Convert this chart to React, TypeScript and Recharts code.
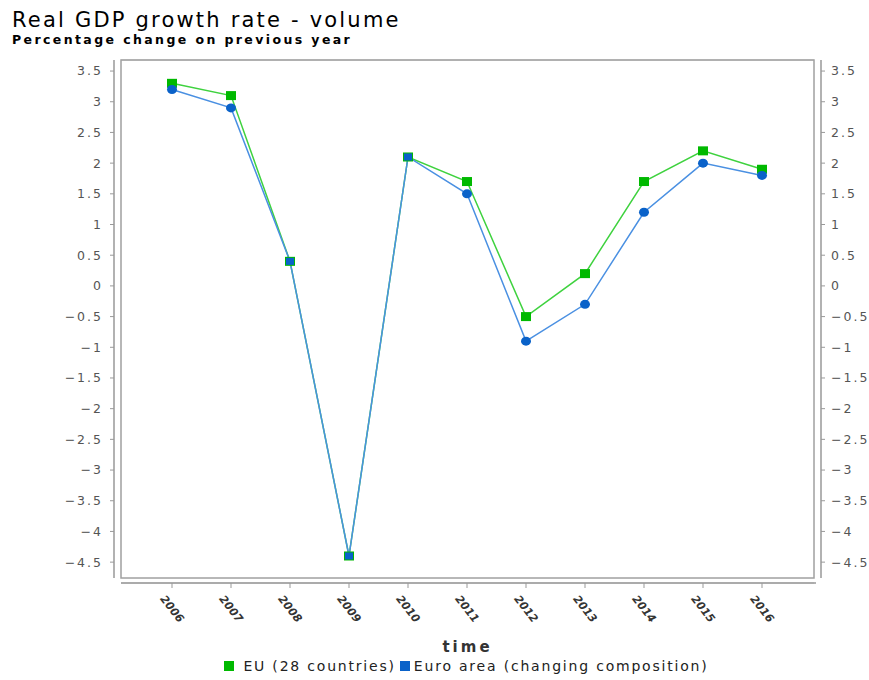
import React from "react"
import { LineChart, Line, XAxis, YAxis, CartesianGrid, Legend } from "recharts"

// values
const years = ["2006", "2007", "2008", "2009", "2010", "2011", "2012", "2013", "2014", "2015", "2016"]
const euValues = [3.3, 3.1, 0.4, -4.4, 2.1, 1.7, -0.5, 0.2, 1.7, 2.2, 1.9]
const euroAreaValues = [3.2, 2.9, 0.4, -4.4, 2.1, 1.5, -0.9, -0.3, 1.2, 2.0, 1.8]
const yTicks = [-4.5, -4, -3.5, -3, -2.5, -2, -1.5, -1, -0.5, 0, 0.5, 1, 1.5, 2, 2.5, 3, 3.5]
const yDomain = [-4.84, 3.68]

const EU_NAME = "EU (28 countries)"
const EA_NAME = "Euro area (changing composition)"

const GREEN_LINE = "#3fd23f"
const GREEN_MARK = "#00b900"
const BLUE_LINE = "#4a90e2"
const BLUE_MARK = "#0a62c9"

// layout
const W = 869
const H = 680
const MARGIN = { top: 60, right: 0, bottom: 6, left: 0 }
const LEFT_AXIS_W = 114
const RIGHT_AXIS_W = 48
const X_AXIS_H = 75
const LEGEND_H = 16
const PLOT_X = MARGIN.left + LEFT_AXIS_W
const PLOT_R = W - MARGIN.right - RIGHT_AXIS_W
const PLOT_Y = MARGIN.top
const PLOT_B = H - MARGIN.bottom - LEGEND_H - X_AXIS_H
const INSET = 7

const FONT = "'DejaVu Sans', Verdana, sans-serif"

const data = years.map((year, i) => ({
  year,
  eu: euValues[i],
  ea: euroAreaValues[i],
}))

const fmt = (v: number) => String(v).replace("-", "\u2212")

const EuDot = (props: any) => {
  const { cx, cy } = props
  if (cx == null || cy == null) return null
  return <rect x={cx - 5} y={cy - 4.5} width={10} height={9} fill={GREEN_MARK} />
}

const EaDot = (props: any) => {
  const { cx, cy, payload } = props
  if (cx == null || cy == null) return null
  // where both series coincide the reference shows a blue square on top of the green one
  if (payload && payload.eu === payload.ea) {
    return <rect x={cx - 4} y={cy - 3.5} width={8} height={7} fill={BLUE_MARK} />
  }
  return <ellipse cx={cx} cy={cy} rx={5} ry={4.5} fill={BLUE_MARK} />
}

const XTick = (props: any) => {
  const { x, y, payload } = props
  const cy = y + 19
  return (
    <text
      x={x}
      y={cy}
      transform={`rotate(52, ${x}, ${cy})`}
      textAnchor="middle"
      dominantBaseline="central"
      fontFamily={FONT}
      fontSize={11}
      fontWeight="bold"
      fontStyle="italic"
      fill="#333"
    >
      {payload.value}
    </text>
  )
}

const LegendContent = () => (
  <div
    style={{
      display: "flex",
      justifyContent: "center",
      alignItems: "center",
      fontFamily: FONT,
      fontSize: 14,
      letterSpacing: 1.8,
      color: "#222",
      height: LEGEND_H,
      paddingLeft: 64,
    }}
  >
    <span style={{ width: 10, height: 10, background: GREEN_MARK, marginRight: 9, display: "inline-block" }} />
    <span style={{ marginRight: 4 }}>{EU_NAME}</span>
    <span style={{ width: 10, height: 10, background: BLUE_MARK, marginRight: 4, display: "inline-block" }} />
    <span>{EA_NAME}</span>
  </div>
)

export default function App() {
  return (
    <div style={{ position: "absolute", left: 0, top: 0, width: W, height: H, background: "#fff" }}>
      <div
        style={{
          position: "absolute",
          left: 12,
          top: 8,
          fontFamily: FONT,
          fontSize: 21,
          letterSpacing: 2.2,
          color: "#000",
          whiteSpace: "nowrap",
        }}
      >
        Real GDP growth rate - volume
      </div>
      <div
        style={{
          position: "absolute",
          left: 12,
          top: 32,
          fontFamily: FONT,
          fontSize: 12.5,
          fontWeight: "bold",
          letterSpacing: 2.4,
          color: "#000",
          whiteSpace: "nowrap",
        }}
      >
        Percentage change on previous year
      </div>
      <LineChart width={W} height={H} data={data} margin={MARGIN} style={{ position: "absolute", left: 0, top: 0 }}>
        <CartesianGrid
          vertical={false}
          stroke="#c8c8c8"
          x={PLOT_X + INSET}
          width={PLOT_R - PLOT_X - 2 * INSET}
        />
        <rect
          x={PLOT_X + INSET}
          y={PLOT_Y}
          width={PLOT_R - PLOT_X - 2 * INSET}
          height={PLOT_B - PLOT_Y - 5}
          fill="none"
          stroke="#a0a0a0"
          strokeWidth={1.5}
        />
        <line x1={PLOT_X} x2={PLOT_X} y1={PLOT_Y} y2={PLOT_B - 5} stroke="#999" strokeWidth={1.5} />
        <line x1={PLOT_R} x2={PLOT_R} y1={PLOT_Y} y2={PLOT_B - 5} stroke="#999" strokeWidth={1.5} />
        <line x1={PLOT_X + INSET} x2={PLOT_R - INSET + 2} y1={PLOT_B} y2={PLOT_B} stroke="#999" strokeWidth={1.5} />
        <XAxis
          dataKey="year"
          height={X_AXIS_H}
          padding={{ left: 58, right: 59 }}
          axisLine={false}
          tickLine={{ stroke: "#999" }}
          tickSize={5}
          tick={<XTick />}
          interval={0}
          label={{
            value: "time",
            position: "insideBottom",
            offset: 6,
            fontFamily: FONT,
            fontSize: 15,
            fontWeight: "bold",
            letterSpacing: 3,
            fill: "#333",
          }}
        />
        <YAxis
          yAxisId="left"
          width={LEFT_AXIS_W}
          domain={yDomain}
          ticks={yTicks}
          type="number"
          allowDataOverflow
          axisLine={false}
          tickLine={{ stroke: "#999" }}
          tickSize={4}
          tickMargin={7}
          tickFormatter={fmt}
          tick={{ fontFamily: FONT, fontSize: 12.5, fill: "#555", letterSpacing: 2 }}
        />
        <YAxis
          yAxisId="right"
          orientation="right"
          width={RIGHT_AXIS_W}
          domain={yDomain}
          ticks={yTicks}
          type="number"
          allowDataOverflow
          axisLine={false}
          tickLine={{ stroke: "#999" }}
          tickSize={4}
          tickMargin={6}
          tickFormatter={fmt}
          tick={{ fontFamily: FONT, fontSize: 12.5, fill: "#555", letterSpacing: 2, textAnchor: "start" }}
        />
        <Legend verticalAlign="bottom" height={LEGEND_H} content={<LegendContent />} />
        <Line
          yAxisId="left"
          type="linear"
          dataKey="eu"
          name={EU_NAME}
          stroke={GREEN_LINE}
          strokeWidth={1.5}
          dot={<EuDot />}
          activeDot={false}
          isAnimationActive={false}
        />
        <Line
          yAxisId="left"
          type="linear"
          dataKey="ea"
          name={EA_NAME}
          stroke={BLUE_LINE}
          strokeWidth={1.5}
          dot={<EaDot />}
          activeDot={false}
          isAnimationActive={false}
        />
      </LineChart>
    </div>
  )
}
